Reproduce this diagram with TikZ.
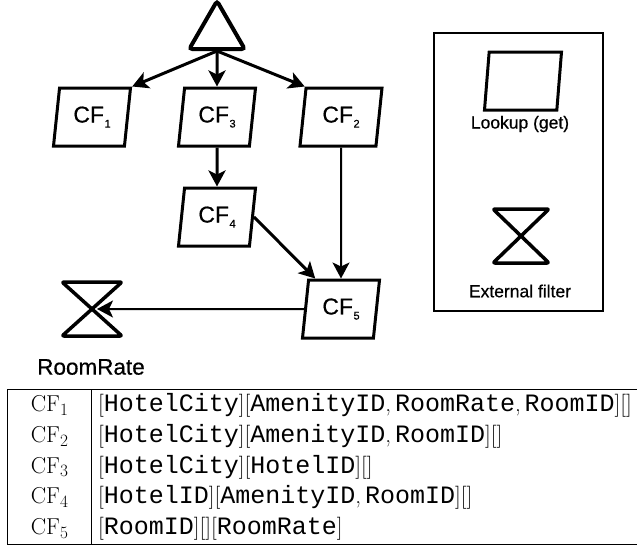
\documentclass[tikz,border=0pt]{standalone}
\usepackage{fontspec}
\setmonofont{Liberation Mono}
\newfontfamily\diafont[FakeBold=0.5]{Liberation Sans}
\usepackage{array}
\usetikzlibrary{shapes.geometric,arrows.meta}
\newcommand{\cf}[1]{CF\kern0.5pt\raisebox{-5pt}{\fontsize{11}{11}\selectfont #1}}
\newcommand{\fld}[1]{{\ttfamily\fontsize{25}{25}\selectfont #1}}
\tikzset{
  lookup/.style={trapezium, trapezium left angle=74, trapezium right angle=106,
    trapezium stretches body, draw, line width=3pt, minimum width=77pt,
    minimum height=58pt, inner sep=0pt, font=\diafont\fontsize{23}{23}\selectfont},
  flow/.style={line width=3pt, -{Stealth[length=16pt,width=17pt,inset=4pt]}},
  filterline/.style={line width=3.5pt, rounded corners=2pt, line join=round},
  legendtext/.style={font=\diafont\fontsize{17.5}{18}\selectfont},
}

\begin{document}
\begin{tikzpicture}[x=1pt,y=-1pt]
  \useasboundingbox (0,0) rectangle (637,544);
  \node[regular polygon, regular polygon sides=3, draw, line width=4pt,
    rounded corners=3pt, minimum size=64pt, inner sep=0pt] (src) at (217,33) {};
  \node[lookup] (cf1) at (92,117) {\cf1};
  \node[lookup] (cf3) at (217,117) {\cf3};
  \node[lookup, minimum width=82pt] (cf2) at (341,117) {\cf2};
  \node[lookup] (cf4) at (217,217) {\cf4};
  \node[lookup] (cf5) at (341,309) {\cf5};
  \coordinate (rate) at (92,309);
  \draw[filterline, shift={(rate)}] (-30,-27) -- (30,-27) -- (-30,27) -- (30,27) -- cycle;
  \node[font=\diafont\fontsize{22.5}{22}\selectfont] (ratelbl) at (91,367) {RoomRate};
  \draw[flow] (src.side 2) -- (cf1.top right corner);
  \draw[flow] (src.side 2) -- (cf3.north);
  \draw[flow] (src.side 2) -- (cf2.top left corner);
  \draw[flow] (cf3.south) -- (cf4.north);
  \draw[flow, line width=2pt] (cf2.south) -- (cf5.north);
  \draw[flow] (cf4.east) -- ([xshift=8pt]cf5.top left corner);
  \draw[flow, line width=2pt, shorten >=5pt] (cf5.west) -- (rate);
  % legend
  \draw[line width=1.5pt] (434,33) rectangle (603,311);
  \node[lookup] (lk) at (523,81) {\phantom{CF}};
  \node[legendtext] (lktext) at (520,124) {Lookup (get)};
  \coordinate (ef) at (521,236);
  \draw[filterline, shift={(ef)}] (-28,-27) -- (28,-27) -- (-28,27) -- (28,27) -- cycle;
  \node[legendtext] (eftext) at (520,291) {External filter};
  % table
  \node[anchor=north west, inner sep=0pt] (tbl) at (7,389) {%
    \fontsize{23}{25}\selectfont\renewcommand{\arraystretch}{1.23}%
    \setlength{\arrayrulewidth}{1pt}%
    \begin{tabular}{|wc{71pt}|wl{534pt}|}
      \hline
      CF$_1$ & [\fld{HotelCity}][\fld{AmenityID},\,\fld{RoomRate},\,\fld{RoomID}][] \\
      CF$_2$ & [\fld{HotelCity}][\fld{AmenityID},\,\fld{RoomID}][] \\
      CF$_3$ & [\fld{HotelCity}][\fld{HotelID}][] \\
      CF$_4$ & [\fld{HotelID}][\fld{AmenityID},\,\fld{RoomID}][] \\
      CF$_5$ & [\fld{RoomID}][][\fld{RoomRate}] \\
      \hline
    \end{tabular}};
\end{tikzpicture}
\end{document}
